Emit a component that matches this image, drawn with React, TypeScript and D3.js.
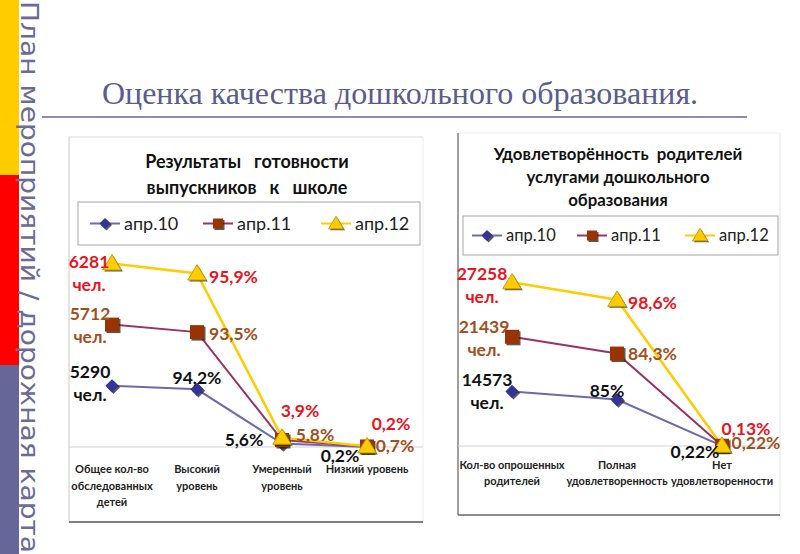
import React from "react";
import * as d3 from "d3";

// ---------- Data ----------
const seriesNames = ["апр.10", "апр.11", "апр.12"];

const categories1 = [
  ["Общее кол-во", "обследованных", "детей"],
  ["Высокий", "уровень"],
  ["Умеренный", "уровень"],
  ["Низкий уровень"],
];
const apr10Chart1 = [100, 94.2, 5.6, 0.2];
const apr11Chart1 = [100, 93.5, 5.8, 0.7];
const apr12Chart1 = [100, 95.9, 3.9, 0.2];
const apr10Labels1 = [["5290", "чел."], ["94,2%"], ["5,6%"], ["0,2%"]];
const apr11Labels1 = [["5712", "чел."], ["93,5%"], ["5,8%"], ["0,7%"]];
const apr12Labels1 = [["6281", "чел."], ["95,9%"], ["3,9%"], ["0,2%"]];

const categories2 = [
  ["Кол-во опрошенных", "родителей"],
  ["Полная", "удовлетворенность"],
  ["Нет", "удовлетворенности"],
];
const apr10Chart2 = [100, 85, 0.22];
const apr11Chart2 = [100, 84.3, 0.22];
const apr12Chart2 = [100, 98.6, 0.13];
const apr10Labels2 = [["14573", "чел."], ["85%"], ["0,22%"]];
const apr11Labels2 = [["21439", "чел."], ["84,3%"], ["0,22%"]];
const apr12Labels2 = [["27258", "чел."], ["98,6%"], ["0,13%"]];

const chart1Title = ["Результаты   готовности", "выпускников   к   школе"];
const chart2Title = ["Удовлетворённость  родителей", "услугами дошкольного", "образования"];
const slideTitle = "Оценка качества дошкольного образования.";
const sideText = "План мероприятий / дорожная карта";

// ---------- Styles ----------
const FONT = "Lato, 'Noto Sans', sans-serif";
const lineColors = ["#6B6BA8", "#993366", "#FFCC00"];
const markerFill = ["#333399", "#993300", "#FFCC00"];
const labelColors = ["#111111", "#A0501E", "#E8141E"];

function Marker({ kind, x, y, s }: { kind: number; x: number; y: number; s: number }) {
  const shape = (dx: number, dy: number, fill: string, stroke: string, op = 1) => {
    if (kind === 0) {
      const h = s * 0.55;
      return (
        <path
          d={`M${x + dx},${y + dy - h}L${x + dx + h},${y + dy}L${x + dx},${y + dy + h}L${x + dx - h},${y + dy}Z`}
          fill={fill}
          stroke={stroke}
          opacity={op}
        />
      );
    }
    if (kind === 1) {
      const h = s * 0.5;
      return <rect x={x + dx - h} y={y + dy - h} width={2 * h} height={2 * h} fill={fill} stroke={stroke} opacity={op} />;
    }
    const h = s * 0.55;
    return (
      <path
        d={`M${x + dx},${y + dy - h}L${x + dx + h * 1.05},${y + dy + h * 0.75}L${x + dx - h * 1.05},${y + dy + h * 0.75}Z`}
        fill={fill}
        stroke={stroke}
        opacity={op}
      />
    );
  };
  return (
    <g>
      {shape(1.5, 1.5, "#222", "none", 0.75)}
      {shape(0, 0, markerFill[kind], kind === 2 ? "#C9A000" : "none")}
    </g>
  );
}

type ChartProps = {
  series: number[][];
  labels: string[][][];
  categories: string[][];
  xRange: [number, number];
  y0: number;
  pxPerUnit: number;
  offsets: [number, number, string][][];
  catBaseline: number;
  catLineH: number;
};

function StackedLines({ series, labels, categories, xRange, y0, pxPerUnit, offsets, catBaseline, catLineH }: ChartProps) {
  const idx = d3.range(categories.length);
  const x = d3.scalePoint<number>().domain(idx).range(xRange);
  const table = idx.map((i) => ({ i, s0: series[0][i], s1: series[1][i], s2: series[2][i] }));
  const stacked = d3.stack<any>().keys(["s0", "s1", "s2"])(table);
  const y = d3.scaleLinear().domain([0, 300]).range([y0, y0 - 300 * pxPerUnit]);
  const line = d3
    .line<any>()
    .x((d) => x(d.data.i)!)
    .y((d) => y(d[1]));
  return (
    <g>
      {stacked.map((s, k) => (
        <path key={"l" + k} d={line(s as any)!} fill="none" stroke={lineColors[k]} strokeWidth={k === 2 ? 2.5 : 2} />
      ))}
      {stacked.map((s, k) =>
        s.map((d, i) => <Marker key={`m${k}-${i}`} kind={k} x={x(i)!} y={y(d[1])} s={k === 0 ? 12 : k === 1 ? 14 : 16} />)
      )}
      {stacked.map((s, k) =>
        s.map((d, i) => {
          const [dx, dy, anchor] = offsets[k][i];
          const px = x(i)! + dx;
          const py = y(d[1]) + dy;
          return (
            <text
              key={`t${k}-${i}`}
              x={px}
              y={py}
              fill={labelColors[k]}
              fontFamily={FONT}
              fontWeight="bold"
              fontSize={17.5}
              textAnchor={anchor as any}
            >
              {labels[k][i].map((ln, j) => (
                <tspan key={j} x={px} y={py + j * 23}>
                  {ln}
                </tspan>
              ))}
            </text>
          );
        })
      )}
      {categories.map((c, i) => (
        <text key={"c" + i} x={x(i)!} y={catBaseline} textAnchor="middle" fontFamily={FONT} fontWeight="bold" fontSize={11} fill="#222">
          {c.map((ln, j) => (
            <tspan key={j} x={x(i)!} y={catBaseline + j * catLineH}>
              {ln}
            </tspan>
          ))}
        </text>
      ))}
    </g>
  );
}

function Legend({ x0, y0, w, h, items, fs }: { x0: number; y0: number; w: number; h: number; items: number[]; fs: number }) {
  const cy = y0 + h / 2;
  return (
    <g>
      <rect x={x0} y={y0} width={w} height={h} fill="#fff" stroke="#A6A6A6" strokeWidth={1} />
      {seriesNames.map((n, k) => (
        <g key={n}>
          <line x1={items[k] - 15} x2={items[k] + 15} y1={cy} y2={cy} stroke={lineColors[k]} strokeWidth={2} />
          <Marker kind={k} x={items[k]} y={cy} s={k === 2 ? 13 : 10} />
          <text x={items[k] + 19} y={cy + fs * 0.36} fontFamily={FONT} fontSize={fs} fill="#222">
            {n}
          </text>
        </g>
      ))}
    </g>
  );
}

export default function App() {
  const offsets1: [number, number, string][][] = [
    [[-22, -8, "middle"], [0, -5, "middle"], [-38, 2, "middle"], [-27, 15, "middle"]],
    [[-22, -5, "middle"], [12, 8, "start"], [33, 1, "middle"], [28, 6, "middle"]],
    [[-23, 5, "middle"], [12, 10, "start"], [18, -21, "middle"], [24, -16, "middle"]],
  ];
  const offsets2: [number, number, string][][] = [
    [[-25, -5, "middle"], [-10, -3, "middle"], [-27, 12, "middle"]],
    [[-28, -4, "middle"], [11, 6, "start"], [34, 3, "middle"]],
    [[-30, -2, "middle"], [11, 9, "start"], [24, -11, "middle"]],
  ];
  return (
    <svg width={800} height={554} style={{ position: "absolute", left: 0, top: 0 }}>
      <rect width={800} height={554} fill="#fff" />
      {/* side strip */}
      <rect x={0} y={0} width={19} height={175} fill="#FFCC00" />
      <rect x={0} y={175} width={19} height={190} fill="#FF0000" />
      <rect x={0} y={365} width={19} height={189} fill="#666699" />
      <text
        transform="translate(21,1) rotate(90)"
        fontFamily="'DejaVu Sans', sans-serif"
        fontSize={24}
        fill="#6B6B93"
        textLength={552}
        lengthAdjust="spacingAndGlyphs"
      >
        {sideText}
      </text>
      {/* slide title */}
      <text x={400} y={104} textAnchor="middle" fontFamily="'Liberation Serif', serif" fontSize={32} fill="#5B5B8C">
        {slideTitle}
      </text>
      <line x1={42} x2={747} y1={117} y2={117} stroke="#8C8CB0" strokeWidth={2} />

      {/* chart 1 box */}
      <rect x={69} y={137} width={354} height={385} fill="#fff" stroke="none" />
      <line x1={69} x2={423} y1={137} y2={137} stroke="#DADADA" />
      <line x1={69} x2={69} y1={137} y2={522} stroke="#C8C8C8" />
      <line x1={423} x2={423} y1={137} y2={522} stroke="#EEEEEE" />
      <line x1={69} x2={423} y1={522} y2={522} stroke="#555" strokeWidth={1.5} />
      {chart1Title.map((t, i) => (
        <text key={t} x={247} y={168 + i * 26} textAnchor="middle" fontFamily={FONT} fontWeight="bold" fontSize={18} fill="#111" style={{ whiteSpace: "pre" }}>
          {t}
        </text>
      ))}
      <Legend x0={78} y0={202} w={342} h={43} items={[105, 218, 336]} fs={18} />
      <line x1={69} x2={423} y1={447} y2={447} stroke="#D0D0D0" />
      <StackedLines
        series={[apr10Chart1, apr11Chart1, apr12Chart1]}
        labels={[apr10Labels1, apr11Labels1, apr12Labels1]}
        categories={categories1}
        xRange={[112, 367]}
        y0={447}
        pxPerUnit={0.612}
        offsets={offsets1}
        catBaseline={473}
        catLineH={16.5}
      />

      {/* chart 2 box */}
      <line x1={458} x2={780} y1={133} y2={133} stroke="#EEEEEE" />
      <line x1={458} x2={458} y1={133} y2={515} stroke="#A0A0A0" strokeWidth={2} />
      <line x1={780} x2={780} y1={133} y2={515} stroke="#E4E4E4" />
      <line x1={458} x2={780} y1={515} y2={515} stroke="#666" strokeWidth={1.5} />
      {chart2Title.map((t, i) => (
        <text key={t} x={618} y={160 + i * 23} textAnchor="middle" fontFamily={FONT} fontWeight="bold" fontSize={16.8} fill="#111" style={{ whiteSpace: "pre" }}>
          {t}
        </text>
      ))}
      <Legend x0={463} y0={216} w={315} h={39} items={[487, 592, 700]} fs={16.5} />
      <line x1={458} x2={780} y1={446} y2={446} stroke="#D0D0D0" />
      <StackedLines
        series={[apr10Chart2, apr11Chart2, apr12Chart2]}
        labels={[apr10Labels2, apr11Labels2, apr12Labels2]}
        categories={categories2}
        xRange={[512, 722]}
        y0={446}
        pxPerUnit={0.546}
        offsets={offsets2}
        catBaseline={469}
        catLineH={16}
      />
    </svg>
  );
}
